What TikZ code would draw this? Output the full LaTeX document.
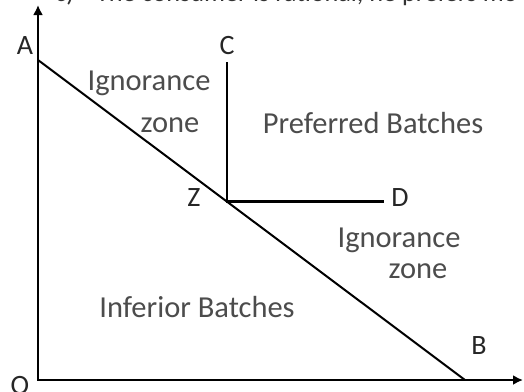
\documentclass[tikz,border=0pt]{standalone}
\usepackage{fontspec}
\setmainfont{Carlito}
\usetikzlibrary{positioning,calc,arrows.meta}

\begin{document}
\begin{tikzpicture}[x=1pt,y=-1pt,
  lbl/.style={inner sep=1pt,font=\fontsize{28}{30}\selectfont,text=black!85},
  zone/.style={inner sep=1pt,font=\fontsize{30.5}{32}\selectfont,text=black!70,align=center}]
\useasboundingbox (0,0) rectangle (524,391);
% heading, cut off by the top edge
\begin{scope}
\clip (0,0) rectangle (524,391);
\node[inner sep=0pt,anchor=base west,text=black!80,font=\fontsize{26.2}{28}\selectfont] (head) at (55,1) {c)\hspace{22pt}The consumer is rational, he prefers mo};
\end{scope}
% axes
\coordinate (O) at (38,380);
\coordinate (ytop) at (38,5);
\coordinate (xend) at (523,380);
\draw[line width=2.6pt,line join=miter,{Latex[length=10pt,width=10pt]}-{Latex[length=10pt,width=10pt]}] (ytop) -- (O) -- (xend);
% budget line and Z
\coordinate (A) at (38,60);
\coordinate (B) at (465,380);
\draw[line width=2pt] (A) -- (B);
\coordinate (Z) at ($(A)!0.443!(B)$);
\coordinate (Ctop) at (227,62);
\coordinate (Dend) at (384,199);
\draw[line width=2.6pt] (Z |- Ctop) -- (Z) -- (Z -| Dend);
% point labels
\node[lbl] (lA) at (25,46) {A};
\node[lbl] (lC) at (227,46) {C};
\node[lbl] (lZ) at (194,198) {Z};
\node[lbl] (lD) at (400,198) {D};
\node[lbl] (lB) at (479,346) {B};
\node[lbl] (lO) at (20,386) {O};
% zones
\node[zone] (ign1) at (149,83) {Ignorance};
\node[zone] (zone1) at (170,125) {zone};
\node[zone] (pref) at (373,123) {Preferred Batches};
\node[zone] (ign2) at (399,240) {Ignorance};
\node[zone] (zone2) at (418,271) {zone};
\node[zone] (inf) at (197,307) {Inferior Batches};
\end{tikzpicture}
\end{document}
